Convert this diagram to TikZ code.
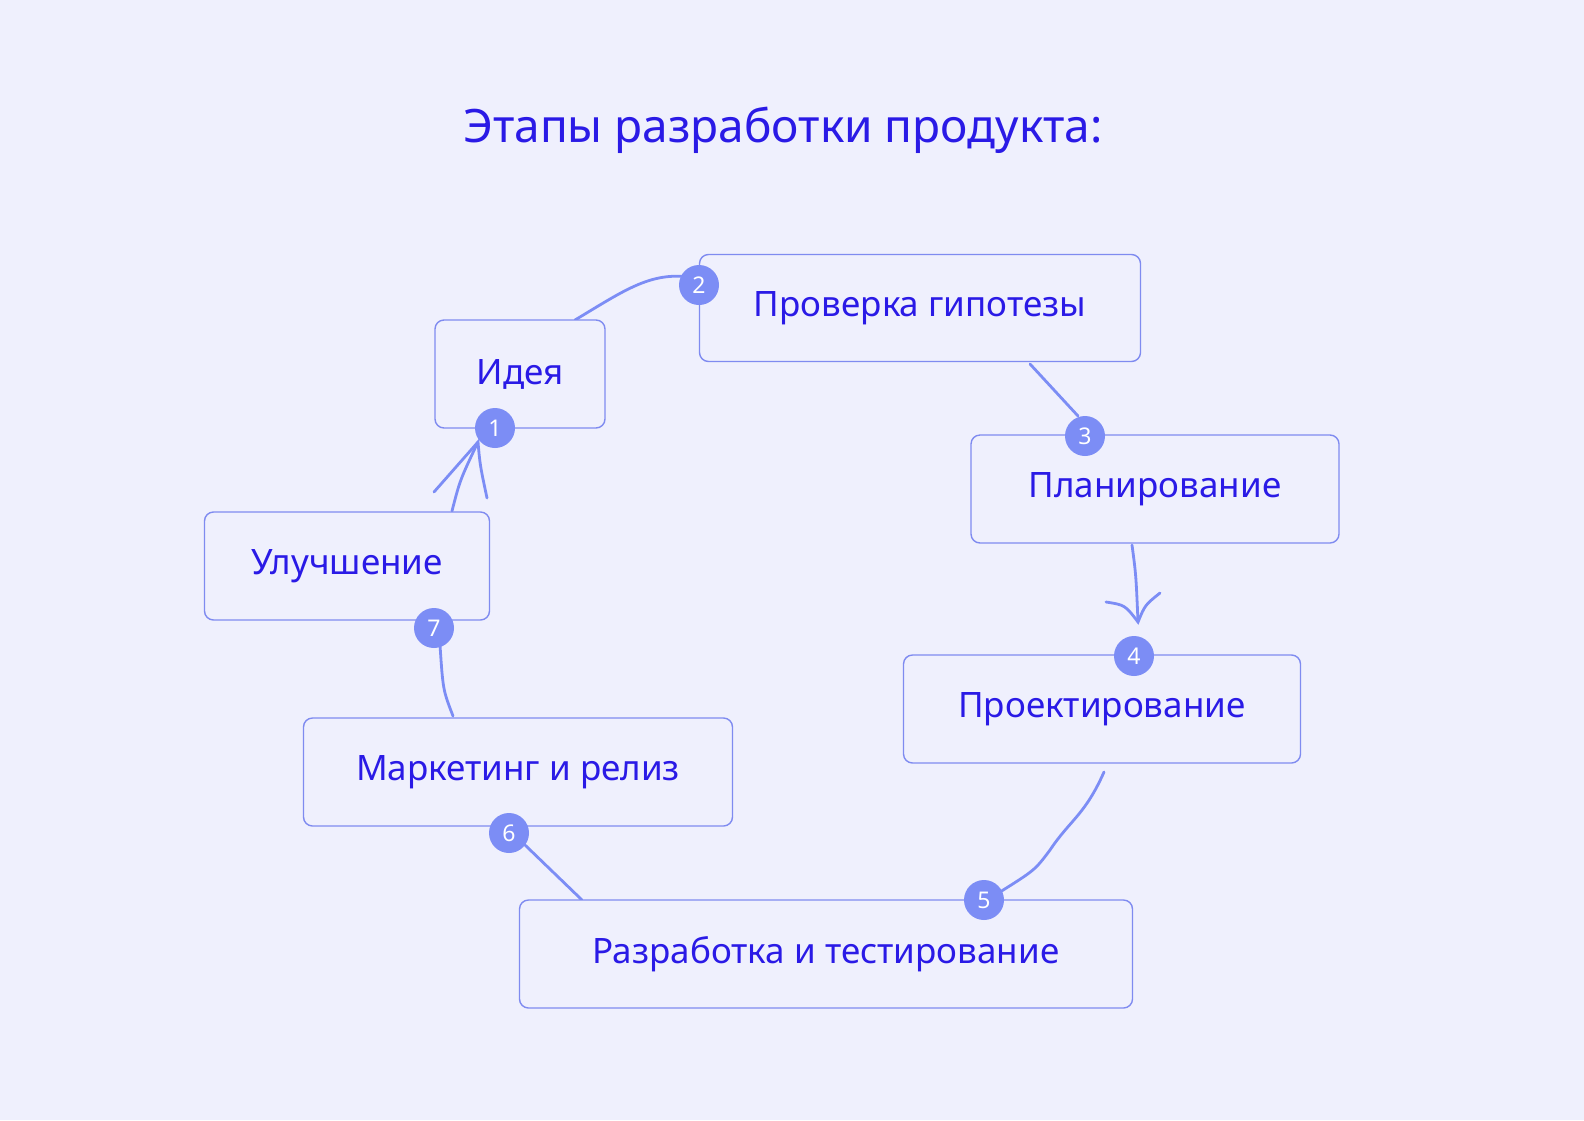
\documentclass[tikz,border=0pt]{standalone}
\usepackage{fontspec}
\setmainfont{Noto Sans}
\definecolor{bg}{HTML}{EFF0FD}
\definecolor{txt}{HTML}{2A1AE6}
\definecolor{bord}{HTML}{7F8BF0}
\definecolor{badge}{HTML}{7C8DF5}
\begin{document}
\begin{tikzpicture}[x=1pt,y=-1pt,
  stage/.style={draw=bord,line width=1.4pt,rounded corners=9pt,fill=bg,text=txt,font=\fontsize{35}{40}\selectfont,inner sep=0pt},
  badgec/.style={circle,fill=badge,text=white,minimum size=40pt,inner sep=0pt,font=\fontsize{23}{24}\selectfont},
  conn/.style={draw=badge,line width=2.8pt,line cap=round}]
\fill[bg] (0,0) rectangle (1584,1120);
\useasboundingbox (0,0) rectangle (1584,1120);
\node[text=txt,font=\fontsize{46}{52}\selectfont] (title) at (783,130) {Этапы разработки продукта:};
% connectors first
\coordinate (c1) at (575,320);
\draw[conn] (c1) .. controls (625,290) and (650,272) .. (690,277);
\coordinate (c2a) at (1030,364); \coordinate (c2b) at (1078,416);
\draw[conn] (c2a) -- (c2b);
\coordinate (c3a) at (1132,545); \coordinate (c3b) at (1138,622);
\draw[conn] (c3a) .. controls (1136,575) .. (c3b);
\coordinate (h3a) at (1106,602); \coordinate (h3b) at (1160,593);
\draw[conn] (h3a) .. controls (1125,605) .. (c3b) .. controls (1145,605) .. (h3b);
\coordinate (c4a) at (1104,772); \coordinate (c4b) at (1000,892);
\draw[conn] (c4a) .. controls (1085,815) and (1070,820) .. (1050,850) .. controls (1035,870) .. (c4b);
\coordinate (c6a) at (525,845); \coordinate (c6b) at (582,900);
\draw[conn] (c6a) -- (c6b);
\coordinate (c7a) at (453,716); \coordinate (c7b) at (440,645);
\draw[conn] (c7a) .. controls (443,690) .. (c7b);
\coordinate (c8a) at (452,511); \coordinate (c8b) at (478,442);
\draw[conn] (c8a) .. controls (460,480) .. (c8b);
\coordinate (h8a) at (434,492); \coordinate (h8b) at (487,498);
\draw[conn] (h8a) -- (c8b) .. controls (480,465) .. (h8b);
% stages
\node[stage,minimum width=170pt,minimum height=108pt] (s1) at (520,374) {Идея};
\node[stage,minimum width=441pt,minimum height=107pt] (s2) at (920,308) {Проверка гипотезы};
\node[stage,minimum width=368pt,minimum height=108pt] (s3) at (1155,489) {Планирование};
\node[stage,minimum width=397pt,minimum height=108pt] (s4) at (1102,709) {Проектирование};
\node[stage,minimum width=613pt,minimum height=108pt] (s5) at (826,954) {Разработка и тестирование};
\node[stage,minimum width=429pt,minimum height=108pt] (s6) at (518,772) {Маркетинг и релиз};
\node[stage,minimum width=285pt,minimum height=108pt] (s7) at (347,566) {Улучшение};
% badges
\node[badgec] (b1) at (495,428) {1};
\node[badgec] (b2) at (699,285) {2};
\node[badgec] (b3) at (1085,436) {3};
\node[badgec] (b4) at (1134,656) {4};
\node[badgec] (b5) at (984,900) {5};
\node[badgec] (b6) at (509,833) {6};
\node[badgec] (b7) at (434,628) {7};
\end{tikzpicture}
\end{document}
